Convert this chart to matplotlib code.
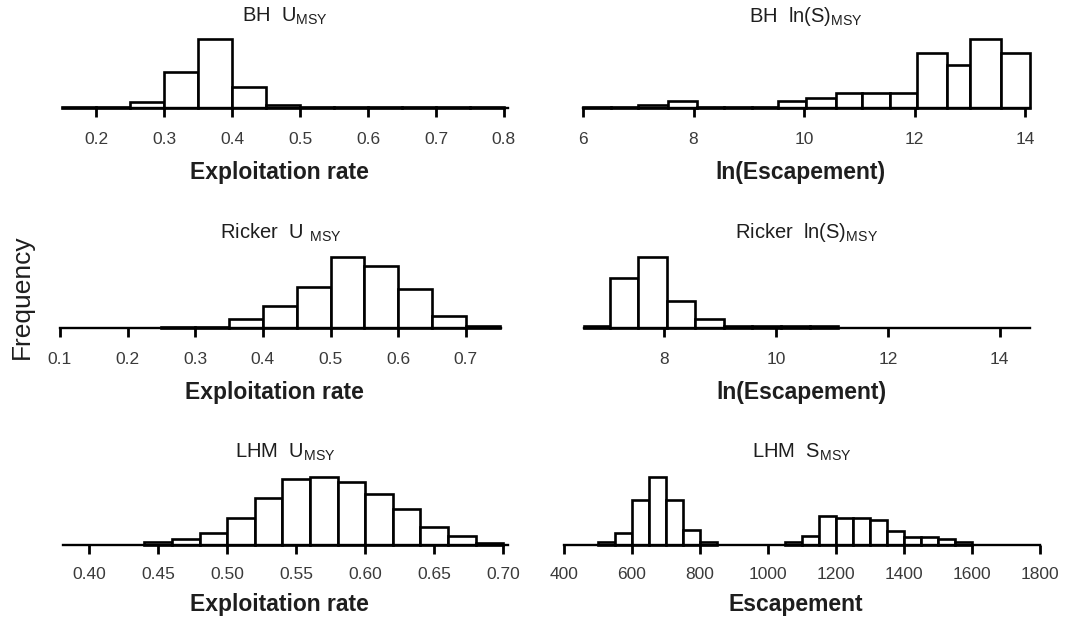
import numpy as np
import matplotlib
matplotlib.use("Agg")
import matplotlib.pyplot as plt

plt.rcParams['font.family'] = ['Liberation Sans', 'DejaVu Sans']
plt.rcParams['mathtext.fontset'] = 'custom'
plt.rcParams['mathtext.rm'] = 'Liberation Sans'

# ---- histogram data (relative frequency, peak = 100) ----
bh_u_edges = [0.15, 0.20, 0.25, 0.30, 0.35, 0.40, 0.45, 0.50, 0.55, 0.60, 0.65, 0.70, 0.75, 0.80]
bh_u_freq = [0.8, 0.8, 8, 52, 100, 30, 3, 0.8, 0.8, 0.8, 0.8, 0.8, 0.8]

bh_s_edges = [6.0, 6.5, 7.0, 7.54, 8.07, 8.56, 9.05, 9.53, 10.04, 10.57, 11.05, 11.56,
              12.04, 12.58, 13.01, 13.56, 14.09]
bh_s_freq = [0.8, 0.8, 5, 10, 2, 2, 2, 10, 14.5, 22, 22, 22, 79, 62, 100, 79]

rk_u_edges = [0.25, 0.30, 0.35, 0.40, 0.45, 0.50, 0.55, 0.60, 0.65, 0.70, 0.75]
rk_u_freq = [1.5, 1.5, 12, 30, 58, 100, 87, 54, 16, 3]

rk_s_edges = [6.57, 7.03, 7.54, 8.05, 8.56, 9.07, 9.58, 10.09, 10.60, 11.11]
rk_s_freq = [2.5, 70, 100, 38, 12, 2.5, 2.5, 2.5, 2.5]

lhm_u_edges = [0.44, 0.46, 0.48, 0.50, 0.52, 0.54, 0.56, 0.58, 0.60, 0.62, 0.64, 0.66, 0.68, 0.70]
lhm_u_freq = [4.4, 9.3, 17, 39, 69, 96, 100, 92, 75, 52, 26, 13, 3.4]

lhm_s_edges = [500, 550, 600, 650, 700, 750, 800, 850, 900, 950, 1000, 1050, 1100, 1150,
               1200, 1250, 1300, 1350, 1400, 1450, 1500, 1550, 1600]
lhm_s_freq = [4.4, 17, 66, 100, 66, 22, 4, 0, 0, 0, 0, 4.4, 13, 43, 39, 39, 37, 21, 12, 12, 9, 4.4]

# ---- tick labels ----
bh_u_ticks = [0.2, 0.3, 0.4, 0.5, 0.6, 0.7, 0.8]
bh_u_labels = ['0.2', '0.3', '0.4', '0.5', '0.6', '0.7', '0.8']
bh_s_ticks = [6, 8, 10, 12, 14]
rk_u_ticks = [0.1, 0.2, 0.3, 0.4, 0.5, 0.6, 0.7]
rk_u_labels = ['0.1', '0.2', '0.3', '0.4', '0.5', '0.6', '0.7']
rk_s_ticks = [8, 10, 12, 14]
lhm_u_ticks = [0.40, 0.45, 0.50, 0.55, 0.60, 0.65, 0.70]
lhm_u_labels = ['0.40', '0.45', '0.50', '0.55', '0.60', '0.65', '0.70']
lhm_s_ticks = [400, 600, 800, 1000, 1200, 1400, 1600, 1800]

W, H = 1065, 621
fig = plt.figure(figsize=(W / 100, H / 100), dpi=100)
fig.patch.set_facecolor('white')

TXT = '#1e1e1e'
TICKTXT = '#3a3a3a'

panels = [
    # edges, freq, ticks, labels, xlim, (left, right, baseline, peak px), title, xlabel, title_y, ticklab_off, xlabel_y
    (bh_u_edges, bh_u_freq, bh_u_ticks, bh_u_labels, (0.151, 0.806), (63, 508, 107.5, 69),
     r'BH  U$_{\mathregular{MSY}}$', 'Exploitation rate', 16, 32, 172),
    (bh_s_edges, bh_s_freq, bh_s_ticks, [str(t) for t in bh_s_ticks], (6.0, 14.09), (583, 1030, 108, 69),
     r'BH  ln(S)$_{\mathregular{MSY}}$', 'ln(Escapement)', 17, 32, 172),
    (rk_u_edges, rk_u_freq, rk_u_ticks, rk_u_labels, (0.1, 0.752), (60, 501, 327.7, 71),
     r'Ricker  U$\ _{\mathregular{MSY}}$', 'Exploitation rate', 233, 32, 393),
    (rk_s_edges, rk_s_freq, rk_s_ticks, [str(t) for t in rk_s_ticks], (6.57, 14.54), (584, 1030, 327.7, 71),
     r'Ricker  ln(S)$_{\mathregular{MSY}}$', 'ln(Escapement)', 233, 32, 393),
    (lhm_u_edges, lhm_u_freq, lhm_u_ticks, lhm_u_labels, (0.381, 0.7035), (63, 508, 545, 68.3),
     r'LHM  U$_{\mathregular{MSY}}$', 'Exploitation rate', 452, 30, 605),
    (lhm_s_edges, lhm_s_freq, lhm_s_ticks, [str(t) for t in lhm_s_ticks], (400, 1800), (564, 1040, 545, 68.3),
     r'LHM  S$_{\mathregular{MSY}}$', 'Escapement', 452, 30, 605),
]

for edges, freq, ticks, labels, xlim, (l, r, base, peak), title, xlabel, ty, tlo, xly in panels:
    ax = fig.add_axes([l / W, (H - base) / H, (r - l) / W, peak / H])
    ax.patch.set_alpha(0)
    e = np.asarray(edges, dtype=float)
    f = np.asarray(freq, dtype=float)
    keep = f > 0
    ax.bar(e[:-1][keep], f[keep], width=np.diff(e)[keep], align='edge',
           facecolor='white', edgecolor='black', linewidth=1.9, clip_on=False, zorder=3)
    ax.set_xlim(*xlim)
    ax.set_ylim(0, 100)
    for s in ('top', 'left', 'right'):
        ax.spines[s].set_visible(False)
    ax.spines['bottom'].set_linewidth(1.7)
    ax.spines['bottom'].set_zorder(4)
    ax.set_yticks([])
    ax.set_xticks(ticks)
    ax.set_xticklabels(labels)
    ax.tick_params(axis='x', direction='out', length=6.5, width=2.0, color='black',
                   labelsize=12.5, labelcolor=TICKTXT, pad=tlo - 21)
    cx = (l + r) / 2 / W
    fig.text(cx, 1 - ty / H, title, ha='center', va='center', fontsize=14.5, color=TXT)
    fig.text(cx - 6 / W, 1 - xly / H, xlabel, ha='center', va='center', fontsize=16.5,
             fontweight='bold', color=TXT)

fig.text(22 / W, 1 - 297 / H, 'Frequency', rotation=90, ha='center', va='center',
         fontsize=19, color=TXT)

fig.savefig('out.png', dpi=100, facecolor='white')
